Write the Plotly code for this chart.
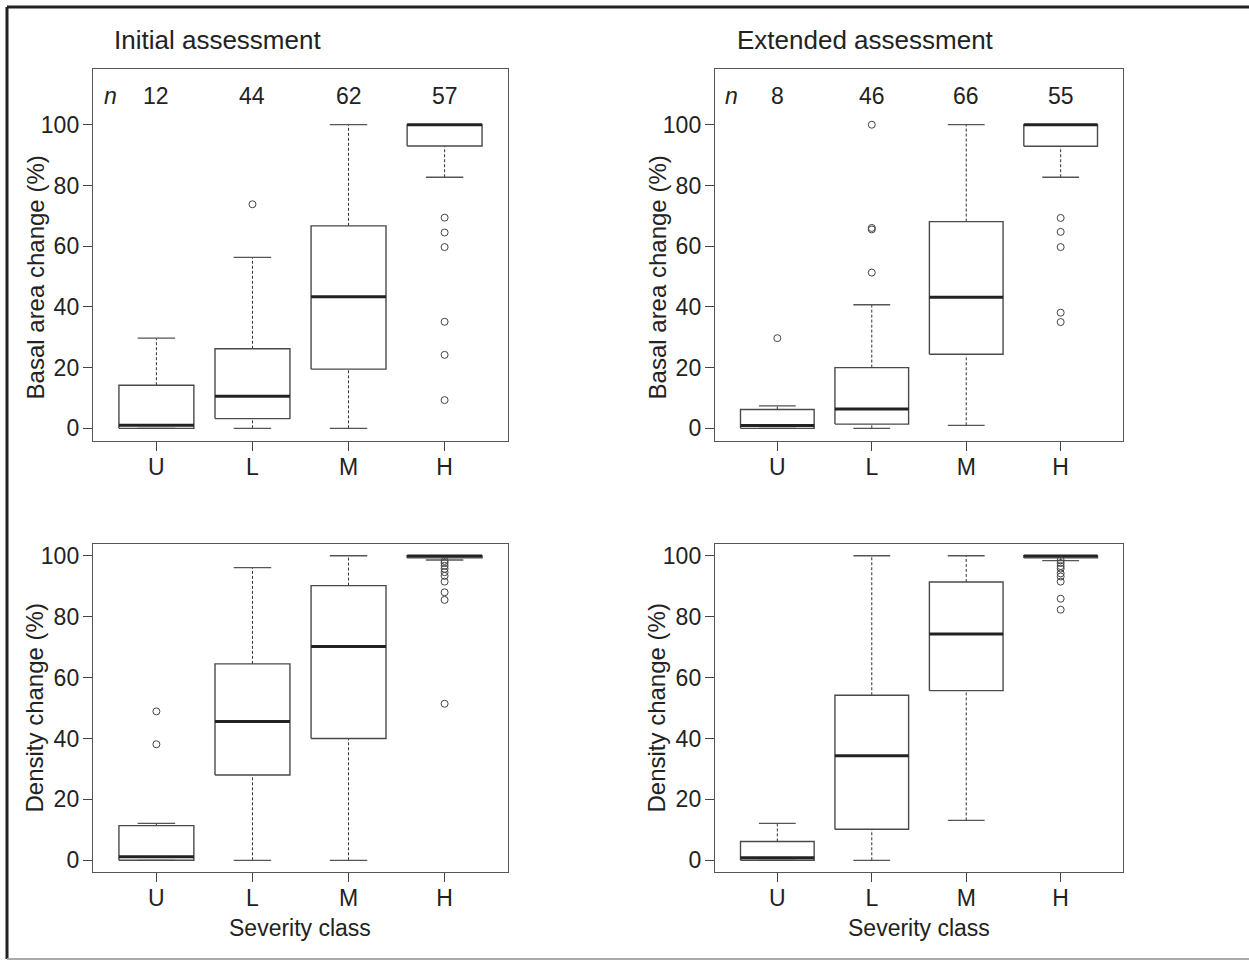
import plotly.graph_objects as go

# ---------------- data ----------------
categories = ["U", "L", "M", "H"]
panel_titles = ["Initial assessment", "Extended assessment"]
y_titles = ["Basal area change (%)", "Density change (%)"]
x_title = "Severity class"
n_initial = [12, 44, 62, 57]
n_extended = [8, 46, 66, 55]
y_ticks = [0, 20, 40, 60, 80, 100]

# Basal area change, initial assessment
ba_init_low = [0.0, 0.0, 0.0, 82.7]
ba_init_q1 = [0.0, 3.2, 19.5, 93.0]
ba_init_med = [1.0, 10.6, 43.3, 100.0]
ba_init_q3 = [14.2, 26.2, 66.7, 100.0]
ba_init_high = [29.7, 56.3, 100.0, 100.0]
ba_init_out = [[], [73.8], [], [69.4, 64.5, 59.7, 35.1, 24.2, 9.3]]

# Basal area change, extended assessment
ba_ext_low = [0.0, 0.0, 1.0, 82.7]
ba_ext_q1 = [0.0, 1.4, 24.4, 92.9]
ba_ext_med = [0.9, 6.4, 43.2, 100.0]
ba_ext_q3 = [6.2, 20.0, 68.1, 100.0]
ba_ext_high = [7.4, 40.7, 100.0, 100.0]
ba_ext_out = [[29.7], [100.0, 66.0, 65.5, 51.3], [], [69.3, 64.7, 59.7, 38.1, 35.0]]

# Density change, initial assessment
de_init_low = [0.0, 0.0, 0.0, 98.6]
de_init_q1 = [0.0, 28.0, 40.0, 99.3]
de_init_med = [1.2, 45.6, 70.2, 99.9]
de_init_q3 = [11.4, 64.5, 90.2, 100.0]
de_init_high = [12.1, 96.1, 100.0, 100.0]
de_init_out = [[48.9, 38.1], [], [], [98.3, 97.6, 96.7, 95.7, 94.6, 93.4, 91.5, 88.0, 85.5, 51.4]]

# Density change, extended assessment
de_ext_low = [0.0, 0.0, 13.1, 98.4]
de_ext_q1 = [0.0, 10.2, 55.7, 99.3]
de_ext_med = [0.8, 34.3, 74.3, 99.9]
de_ext_q3 = [6.2, 54.2, 91.4, 100.0]
de_ext_high = [12.1, 100.0, 100.0, 100.0]
de_ext_out = [[], [], [], [98.5, 97.6, 96.6, 95.8, 94.2, 93.2, 91.5, 85.9, 82.3]]

# ---------------- style ----------------
W, H = 1249, 962
FONT = "Liberation Sans, Arial, sans-serif"
TXT = "#222222"
BOX_HALF = 0.39
CAP_HALF = 0.195
BOX_COL = "#4a4a4a"
MED_COL = "#222222"

fig = go.Figure()

# pixel frames of the four plot areas: (left, top, right, bottom)
frames = {
    1: (93, 68, 508, 441),
    2: (715, 68, 1123, 441),
    3: (93, 544, 508, 873),
    4: (715, 544, 1123, 873),
}

panels = [
    (1, ba_init_low, ba_init_q1, ba_init_med, ba_init_q3, ba_init_high, ba_init_out, [-4.2, 118.4]),
    (2, ba_ext_low, ba_ext_q1, ba_ext_med, ba_ext_q3, ba_ext_high, ba_ext_out, [-4.2, 118.4]),
    (3, de_init_low, de_init_q1, de_init_med, de_init_q3, de_init_high, de_init_out, [-3.9, 103.9]),
    (4, de_ext_low, de_ext_q1, de_ext_med, de_ext_q3, de_ext_high, de_ext_out, [-3.9, 103.9]),
]

pos = [i + 1 for i in range(len(categories))]

for k, low, q1, med, q3, high, outs, yr in panels:
    xa = "x" if k == 1 else f"x{k}"
    ya = "y" if k == 1 else f"y{k}"
    # whiskers (dashed)
    wx, wy = [], []
    for p, a, b, c, d in zip(pos, low, q1, q3, high):
        wx += [p, p, None, p, p, None]
        wy += [a, b, None, c, d, None]
    fig.add_trace(go.Scatter(x=wx, y=wy, mode="lines", xaxis=xa, yaxis=ya,
                             line=dict(color="#333333", width=1, dash="3px,2px"),
                             showlegend=False, hoverinfo="skip"))
    # caps
    cx, cy = [], []
    for p, a, d in zip(pos, low, high):
        cx += [p - CAP_HALF, p + CAP_HALF, None, p - CAP_HALF, p + CAP_HALF, None]
        cy += [a, a, None, d, d, None]
    fig.add_trace(go.Scatter(x=cx, y=cy, mode="lines", xaxis=xa, yaxis=ya,
                             line=dict(color="#555555", width=1.3),
                             showlegend=False, hoverinfo="skip"))
    # boxes
    bx, by = [], []
    for p, b, c in zip(pos, q1, q3):
        bx += [p - BOX_HALF, p + BOX_HALF, p + BOX_HALF, p - BOX_HALF, p - BOX_HALF, None]
        by += [b, b, c, c, b, None]
    fig.add_trace(go.Scatter(x=bx, y=by, mode="lines", xaxis=xa, yaxis=ya,
                             line=dict(color=BOX_COL, width=1.4),
                             showlegend=False, hoverinfo="skip"))
    # medians
    mx, my = [], []
    for p, m in zip(pos, med):
        mx += [p - BOX_HALF, p + BOX_HALF, None]
        my += [m, m, None]
    fig.add_trace(go.Scatter(x=mx, y=my, mode="lines", xaxis=xa, yaxis=ya,
                             line=dict(color=MED_COL, width=3),
                             showlegend=False, hoverinfo="skip"))
    # outliers
    ox, oy = [], []
    for p, o in zip(pos, outs):
        ox += [p] * len(o)
        oy += list(o)
    fig.add_trace(go.Scatter(x=ox, y=oy, mode="markers", xaxis=xa, yaxis=ya,
                             marker=dict(symbol="circle-open", size=7, color="#444444",
                                         line=dict(width=1)),
                             showlegend=False, hoverinfo="skip"))

    l, t, r, b = frames[k]
    xkey = "xaxis" if k == 1 else f"xaxis{k}"
    ykey = "yaxis" if k == 1 else f"yaxis{k}"
    axis_common = dict(showline=True, mirror=True, linecolor="#555555", linewidth=1.4,
                       ticks="outside", ticklen=9, tickwidth=1.3, tickcolor="#444444",
                       showgrid=False, zeroline=False, fixedrange=True,
                       tickfont=dict(family=FONT, size=23, color=TXT))
    fig.layout[xkey] = dict(domain=[l / W, r / W], anchor=ya, range=[0.34, 4.66],
                            tickvals=pos, ticktext=categories, ticklabelstandoff=-4,
                            **axis_common)
    fig.layout[ykey] = dict(domain=[1 - b / H, 1 - t / H], anchor=xa, range=yr,
                            tickvals=y_ticks, ticklabelstandoff=-1, **axis_common)


def ann(text, x, y, xref="paper", yref="paper", size=23, angle=0):
    return dict(text=text, x=x, y=y, xref=xref, yref=yref, showarrow=False,
                xanchor="center", yanchor="middle", textangle=angle,
                font=dict(family=FONT, size=size, color=TXT))


annotations = []
# panel titles
annotations.append(ann(panel_titles[0], 217 / W, 1 - 39 / H, size=26))
annotations.append(ann(panel_titles[1], 865 / W, 1 - 39 / H, size=26))
# y titles
for xpx, ypx, txt in [(35, 277, y_titles[0]), (657, 277, y_titles[0]),
                      (35, 709, y_titles[1]), (657, 709, y_titles[1])]:
    annotations.append(ann(txt, xpx / W, 1 - ypx / H, size=24, angle=-90))
# x titles
for xpx in [300, 919]:
    annotations.append(ann(x_title, xpx / W, 1 - 929 / H, size=23))
# n labels
for xa, ya, counts in [("x", "y", n_initial), ("x2", "y2", n_extended)]:
    annotations.append(ann("<i>n</i>", 0.52, 109.3, xref=xa, yref=ya))
    for p, c in zip(pos, counts):
        annotations.append(ann(str(c), p, 109.3, xref=xa, yref=ya))

shapes = [
    dict(type="line", xref="paper", yref="paper", x0=7 / W, x1=7 / W, y0=1 - 6 / H, y1=1 - 960 / H,
         line=dict(color="#222222", width=3)),
    dict(type="line", xref="paper", yref="paper", x0=7 / W, x1=1, y0=1 - 6 / H, y1=1 - 6 / H,
         line=dict(color="#222222", width=3)),
    dict(type="line", xref="paper", yref="paper", x0=7 / W, x1=1, y0=1 - 960 / H, y1=1 - 960 / H,
         line=dict(color="#aaaaaa", width=2)),
]

fig.update_layout(width=W, height=H, margin=dict(l=0, r=0, t=0, b=0),
                  paper_bgcolor="white", plot_bgcolor="white",
                  annotations=annotations, shapes=shapes, showlegend=False)

fig.write_html("out.html", config={"displayModeBar": False},
               post_script="document.body.style.margin='0';document.body.style.overflow='hidden';")
